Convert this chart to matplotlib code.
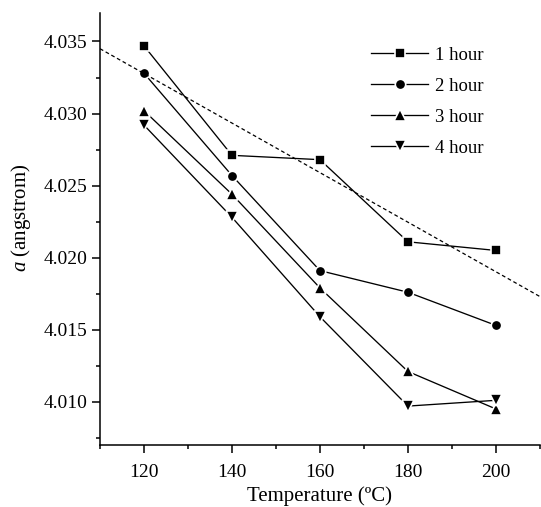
import numpy as np
import matplotlib
matplotlib.use("Agg")
import matplotlib.pyplot as plt
from matplotlib.ticker import MultipleLocator, FormatStrFormatter

# data
temps = [120, 140, 160, 180, 200]
lat_1h = [4.0347, 4.0271, 4.0268, 4.0211, 4.0205]
lat_2h = [4.0328, 4.0257, 4.0191, 4.0176, 4.0153]
lat_3h = [4.0302, 4.0244, 4.0179, 4.0121, 4.0095]
lat_4h = [4.0292, 4.0228, 4.0159, 4.0097, 4.0101]
labels = ["1 hour", "2 hour", "3 hour", "4 hour"]
markers = ["s", "o", "^", "v"]

# dashed reference line
ref_x = [110, 210]
ref_y = [4.0345, 4.0173]

plt.rcParams["font.family"] = "Liberation Serif"
plt.rcParams["mathtext.fontset"] = "custom"
plt.rcParams["mathtext.it"] = "Liberation Serif:italic"
plt.rcParams["mathtext.rm"] = "Liberation Serif"

fig = plt.figure(figsize=(5.41, 5.07), dpi=100)
ax = fig.add_axes([0.1848, 0.1223, 0.8132, 0.8527])

for vals, lab, mk in zip([lat_1h, lat_2h, lat_3h, lat_4h], labels, markers):
    ms = 7.5 if mk in ("s", "o") else 9
    ax.plot(temps, vals, color="black", lw=0.95, marker=mk, ms=ms,
            mfc="black", mec="white", mew=1.2, label=lab)

ax.plot(ref_x, ref_y, color="black", lw=0.9, linestyle=(0, (3, 2.2)))

ax.set_xlim(110, 210)
ax.set_ylim(4.007, 4.037)
ax.xaxis.set_major_locator(MultipleLocator(20))
ax.xaxis.set_minor_locator(MultipleLocator(10))
ax.yaxis.set_major_locator(MultipleLocator(0.005))
ax.yaxis.set_minor_locator(MultipleLocator(0.0025))
ax.yaxis.set_major_formatter(FormatStrFormatter("%.3f"))

for side in ["top", "right"]:
    ax.spines[side].set_visible(False)
for side in ["left", "bottom"]:
    ax.spines[side].set_linewidth(1.1)

ax.tick_params(which="major", direction="out", length=5.5, width=1.1, labelsize=14)
ax.tick_params(which="minor", direction="out", length=3, width=1.1)
ax.tick_params(axis="x", pad=8)

ax.set_xlabel("Temperature (ºC)", fontsize=15, labelpad=4)
ax.set_ylabel("$a$ (angstrom)", fontsize=15)
ax.yaxis.set_label_coords(-0.152, 0.525)

leg = ax.legend(loc="upper left", bbox_to_anchor=(0.617, 0.922), frameon=False,
                borderpad=0, borderaxespad=0,
                fontsize=13.5, handlelength=3.0, labelspacing=0.74, handletextpad=0.4)

fig.savefig("out.png", dpi=100)
